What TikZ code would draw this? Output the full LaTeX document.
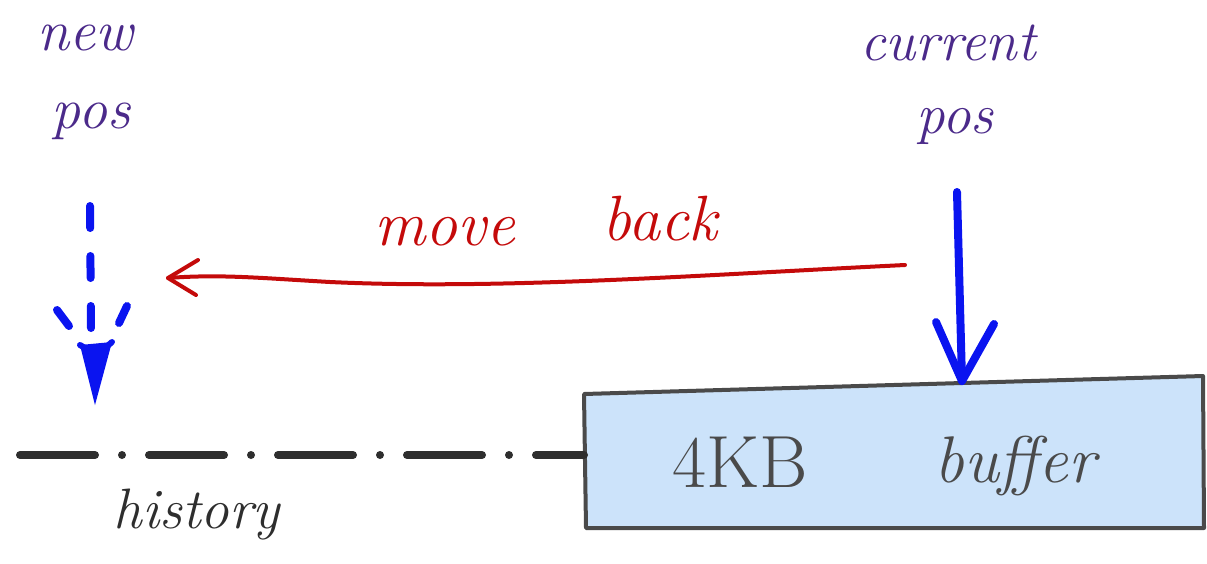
\documentclass[tikz,border=0pt]{standalone}
\usetikzlibrary{arrows.meta}
\definecolor{penpurple}{HTML}{4B2A8A}
\definecolor{penred}{HTML}{C40A0A}
\definecolor{penblue}{HTML}{0A14F0}
\definecolor{penblack}{HTML}{2E2E2E}
\definecolor{boxfill}{HTML}{CCE3FA}
\definecolor{boxedge}{HTML}{4A4A4A}
\tikzset{
  x=1pt, y=-1pt,
  word/.style={font=\itshape\fontsize{#1}{#1}\selectfont, inner sep=0pt, anchor=base},
  bluepen/.style={draw=penblue, line width=8pt, line cap=round},
  redpen/.style={draw=penred, line width=4pt, line cap=round, line join=round},
  blackpen/.style={draw=penblack, line width=8pt, line cap=round},
}
\begin{document}
\begin{tikzpicture}
\useasboundingbox (0,0) rectangle (1207,563);

% labels
\node[word=58, text=penpurple] (new) at (85,50) {new};
\node[word=58, text=penpurple] (newpos) at (91,128) {pos};
\node[word=57, text=penpurple] (cur) at (948,60) {current};
\node[word=57, text=penpurple] (curpos) at (955,133) {pos};
\node[word=64, text=penred] (move) at (445,245) {move};
\node[word=64, text=penred] (back) at (660,240) {back};
\node[word=57, text=penblack] (hist) at (197,528) {history};

% the buffer
\draw[fill=boxfill, draw=boxedge, line width=4pt, line join=round]
  (584,394) -- (1203,376) -- (1204,528) -- (586,528) -- cycle;
\coordinate (buftop) at (962,381);
\coordinate (bufleft) at (584,455);
\node[font=\fontsize{74}{74}\selectfont, inner sep=0pt, anchor=base, text=boxedge] (kb) at (740,487) {4KB};
\node[word=66, text=boxedge] (buf) at (1015,482) {buffer};

% history line (dash dot)
\coordinate (histstart) at (20,455);
\draw[blackpen, dash pattern=on 75pt off 27pt on 0pt off 27pt]
  (histstart) -- (bufleft);

% current position arrow
\coordinate (curtop) at (957,192);
\draw[bluepen] (curtop) -- (buftop);
\draw[bluepen, line join=round] (936,322) -- (buftop) -- (994,324);

% new position arrow (dashed)
\coordinate (newtop) at (90,206);
\coordinate (newtip) at (95,405);
\draw[bluepen, dash pattern=on 22pt off 28pt] (newtop) -- (91,330);
\draw[bluepen] (57,310) -- (69,326);
\draw[bluepen] (127,306) -- (119,323);
\fill[penblue] (80,345) -- (112,342) -- (newtip) -- cycle;
\draw[penblue, line width=6pt, line cap=round, line join=round] (80,345) -- (97,355) -- (112,342);

% move back arrow
\coordinate (mvstart) at (905,265);
\coordinate (mvend) at (168,278);
\draw[redpen] (mvstart) .. controls (700,275) and (500,290) .. (330,282)
  .. controls (260,278) and (220,274) .. (mvend);
\draw[redpen] (198,260) -- (mvend) -- (196,295);
\end{tikzpicture}
\end{document}
